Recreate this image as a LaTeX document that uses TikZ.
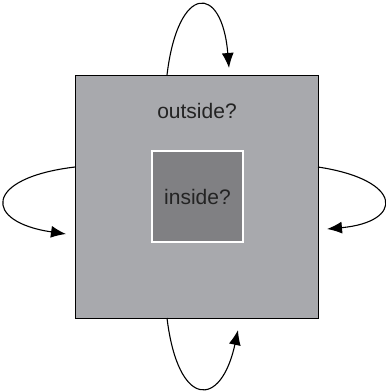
\documentclass[tikz,border=0pt]{standalone}
\usepackage{fontspec}
\setmainfont{Liberation Sans}
\usetikzlibrary{arrows.meta}
\definecolor{outergray}{HTML}{A8A9AD}
\definecolor{innergray}{HTML}{808083}
\definecolor{textgray}{HTML}{232323}
\begin{document}
\begin{tikzpicture}[x=1pt,y=-1pt,
    region/.style={draw, line width=1pt, minimum size=#1, inner sep=0pt},
    loop arrow/.style={line width=1.1pt, -{Latex[length=15pt,width=12pt]}},
    label text/.style={text=textgray, font=\fontsize{21}{24}\selectfont}]
    \useasboundingbox (0,0) rectangle (386,392);
    % Outer region
    \node[region=243pt, fill=outergray, draw=black] (outer) at (196.5,196.5) {};
    % Inner region
    \node[region=91pt, fill=innergray, draw=white, line width=1.4pt] (inner) at (197.5,196.5) {};
    \node[label text] (outlbl) at (197,111) {outside?};
    \node[label text] (inlbl) at (inner.center) {inside?};
    % Loop end points
    \coordinate (topA) at (167,75);
    \coordinate (topB) at (229,68);
    \coordinate (botA) at (167,318);
    \coordinate (botB) at (238,330);
    \coordinate (lftA) at (75,167);
    \coordinate (lftB) at (66,234);
    \coordinate (rgtA) at (318,167);
    \coordinate (rgtB) at (327,229);
    % Loops
    \draw[loop arrow] (topA) .. controls (178,-17) and (222,-17) .. (topB);
    \draw[loop arrow] (botA) .. controls (178,409) and (221,409) .. (botB);
    \draw[loop arrow] (lftA) .. controls (-17,178) and (-17,222) .. (lftB);
    \draw[loop arrow] (rgtA) .. controls (404,180) and (404,222) .. (rgtB);
\end{tikzpicture}
\end{document}
